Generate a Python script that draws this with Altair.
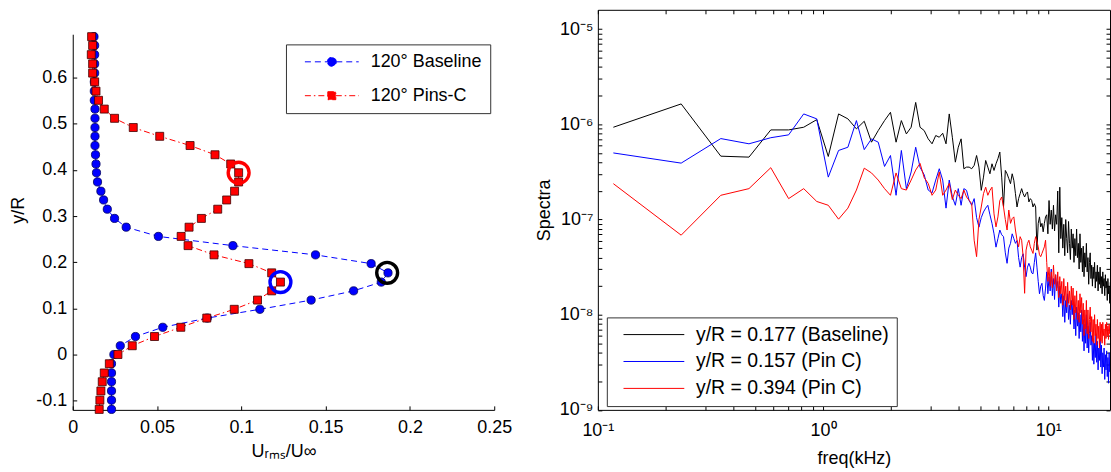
import altair as alt
import pandas as pd

# ---------------- Left panel: Urms/Uinf profiles ----------------
y_over_R = [0.689, 0.670, 0.650, 0.630, 0.610, 0.591, 0.571, 0.551, 0.532, 0.512,
            0.492, 0.473, 0.453, 0.433, 0.413, 0.394, 0.374, 0.354, 0.335, 0.315,
            0.295, 0.276, 0.256, 0.236, 0.216, 0.197, 0.177, 0.157, 0.138, 0.118,
            0.098, 0.079, 0.059, 0.039, 0.019, 0.000, -0.020, -0.040, -0.059, -0.079,
            -0.099, -0.119]
urms_baseline = [0.0126, 0.0130, 0.0130, 0.0130, 0.0130, 0.0128, 0.0128, 0.0128, 0.0132, 0.0132,
                 0.0132, 0.0132, 0.0132, 0.0135, 0.0138, 0.0141, 0.0147, 0.0167, 0.0183, 0.0205,
                 0.0248, 0.0317, 0.0508, 0.0950, 0.1440, 0.1770, 0.1870, 0.1830, 0.1666, 0.1414,
                 0.1110, 0.0798, 0.0534, 0.0372, 0.0282, 0.0244, 0.0230, 0.0230, 0.0230, 0.0230,
                 0.0230, 0.0230]
urms_pins = [0.0112, 0.0118, 0.0110, 0.0118, 0.0118, 0.0130, 0.0138, 0.0153, 0.0187, 0.0248,
             0.0359, 0.0516, 0.0696, 0.0844, 0.0937, 0.0984, 0.0984, 0.0960, 0.0913, 0.0860,
             0.0763, 0.0690, 0.0643, 0.0684, 0.0838, 0.1045, 0.1180, 0.1232, 0.1180, 0.1096,
             0.0958, 0.0795, 0.0641, 0.0485, 0.0353, 0.0268, 0.0217, 0.0187, 0.0175, 0.0167,
             0.0161, 0.0157]
left_series = ["120° Baseline", "120° Pins-C"]
left_colors = ["#0000ff", "#ff0000"]

ring_x = [0.0984, 0.1232, 0.1865]
ring_y = [0.394, 0.157, 0.177]
ring_color = ["#ff0000", "#0000ff", "#000000"]

left_x_ticks = [0, 0.05, 0.1, 0.15, 0.2, 0.25]
left_y_ticks = [-0.1, 0, 0.1, 0.2, 0.3, 0.4, 0.5, 0.6]

# ---------------- Right panel: spectra (log10 of value) ----------------
freq_step_khz = 0.1172
spec_names = ["y/R = 0.177 (Baseline)", "y/R = 0.157 (Pin C)", "y/R = 0.394 (Pin C)"]
spec_colors = ["#000000", "#0000ff", "#ff0000"]

spec_baseline_log10 = [
    -6.03, -5.785, -6.334, -6.344, -6.058, -6.058, -6.03, -5.95, -6.337, -5.89,
    -5.942, -6.047, -5.967, -6.187, -6.065, -5.960, -5.873, -6.187, -5.960, -6.10,
    -6.030, -5.769, -6.030, -6.065, -6.152, -6.204, -6.117, -6.135, -6.093, -6.204,
    -5.890, -6.135, -6.397, -6.240, -6.152, -6.466,
    -6.449, -6.449, -6.466, -6.431, -6.327, -6.449, -6.693, -6.554, -6.379, -6.449,
    -6.519, -6.414, -6.484, -6.414, -6.36, -6.291, -6.554, -6.868, -6.484, -6.519,
    -6.57, -6.623, -6.519, -6.588, -6.728, -6.868, -6.78, -6.728, -6.675, -6.728,
    -6.763, -6.728, -6.710, -6.815, -6.78, -6.798, -6.868, -6.833, -6.868, -7.321,
    -7.04, -6.972, -7.077, -7.04, -7.129, -7.04, -6.972,
    -6.95, -7.15, -6.80, -7.05, -6.90,
    -7.10, -6.85, -7.12, -6.95, -7.05,
    -6.70, -7.35, -6.66, -7.20,
    -6.98, -7.30, -7.05, -7.38, -7.00, -7.20,
    -7.35, -7.02, -7.25, -7.42, -7.10,
    -7.30, -7.15, -7.45, -7.20, -7.38, -7.10,
    -7.40, -7.25, -7.52, -7.15, -7.45, -7.30,
    -7.55, -7.28, -7.60, -7.35, -7.50, -7.25,
    -7.55, -7.40, -7.68, -7.45, -7.35, -7.62,
    -7.48, -7.70, -7.50, -7.62, -7.45, -7.72, -7.55,
    -7.65, -7.48, -7.75, -7.55, -7.68, -7.50, -7.72,
    -7.60, -7.78, -7.55, -7.70, -7.62, -7.80, -7.58, -7.72,
    -7.65, -7.85, -7.62, -7.78, -7.70, -7.88, -7.66, -7.80, -7.72, -7.86]

spec_pin157_log10 = [
    -6.30, -6.407, -6.149, -6.204, -6.14, -6.11, -5.89, -5.942, -6.554, -6.274,
    -6.240, -5.960, -6.265, -6.152, -6.187, -6.442, -6.327, -6.745, -6.274, -6.675,
    -6.50, -6.240, -6.45, -6.53, -6.69, -6.72, -6.585, -6.466, -6.585, -6.88,
    -6.585, -6.76, -6.85, -6.675, -6.85, -6.675,
    -6.693, -6.80, -6.85, -6.78, -6.98, -7.08, -6.98, -6.92, -6.88, -6.85,
    -6.95, -7.04, -7.15, -7.29, -7.2, -7.11, -7.16, -7.18, -7.35, -7.46,
    -7.3, -7.25, -7.15, -7.2, -7.25, -7.22, -7.4, -7.5, -7.4, -7.36,
    -7.5, -7.6, -7.5, -7.46, -7.5, -7.56, -7.57, -7.45, -7.35, -7.5,
    -7.65, -7.78, -7.7, -7.67, -7.8, -7.85, -7.72,
    -7.55, -7.78, -7.60, -7.75, -7.52,
    -7.80, -7.62, -7.84, -7.58, -7.72,
    -7.65, -7.92, -7.70, -7.88,
    -7.78, -8.02, -7.80, -8.08, -7.85, -7.98,
    -7.78, -8.05, -7.90, -8.10, -7.85,
    -8.00, -7.88, -8.15, -7.95, -8.22, -7.92,
    -8.12, -7.98, -8.25, -8.00, -8.18, -7.95,
    -8.28, -8.05, -8.38, -8.10, -8.30, -8.00,
    -8.35, -8.12, -8.40, -8.20, -8.08, -8.32,
    -8.22, -8.48, -8.25, -8.52, -8.30, -8.45, -8.20,
    -8.50, -8.28, -8.58, -8.35, -8.48, -8.25, -8.55,
    -8.32, -8.62, -8.40, -8.55, -8.35, -8.68, -8.42, -8.58,
    -8.38, -8.65, -8.45, -8.72, -8.40, -8.60, -8.50, -8.75, -8.45, -8.62]

spec_pin394_log10 = [
    -6.623, -7.164, -6.745, -6.675, -6.455, -6.78, -6.675, -6.81, -6.85, -6.996,
    -6.88, -6.69, -6.46, -6.51, -6.585, -6.675, -6.745, -6.51, -6.675, -6.69,
    -6.585, -6.48, -6.41, -6.56, -6.62, -6.745, -6.69, -6.50, -6.745, -6.69,
    -6.62, -6.79, -6.69, -6.745, -6.78, -6.69,
    -6.763, -6.798, -6.833, -7.217, -7.39, -7.0, -6.868, -6.728, -6.66, -6.745,
    -6.693, -6.66, -6.94, -7.077, -6.972, -6.80, -6.763, -6.868, -7.0, -7.11,
    -6.9, -7.04, -6.99, -6.972, -7.11, -7.217, -7.287, -7.18, -7.217, -7.39,
    -7.775, -7.321, -7.25, -7.217, -7.287, -7.321, -7.356, -7.25, -7.18, -7.23,
    -7.287, -7.37, -7.39, -7.356, -7.321, -7.287, -7.217,
    -7.45, -7.65, -7.50, -7.70, -7.55,
    -7.72, -7.48, -7.68, -7.58, -7.75,
    -7.55, -7.82, -7.60, -7.78,
    -7.65, -7.90, -7.62, -7.85, -7.70, -7.92,
    -7.66, -7.88, -7.75, -7.95, -7.70,
    -7.90, -7.72, -8.05, -7.80, -7.98, -7.75,
    -8.05, -7.85, -8.08, -7.78, -7.98, -7.82,
    -8.10, -7.88, -8.22, -7.95, -8.15, -7.85,
    -8.20, -7.95, -8.25, -8.05, -7.92, -8.18,
    -8.02, -8.28, -8.05, -8.30, -8.00, -8.22, -8.10,
    -8.32, -8.05, -8.25, -8.12, -8.35, -8.08, -8.28,
    -8.10, -8.30, -8.08, -8.22, -8.15, -8.32, -8.10, -8.25,
    -8.08, -8.22, -8.12, -8.26, -8.10, -8.20, -8.14, -8.25, -8.08, -8.18]

spec_x_ticks = [0.1, 0.2, 0.3, 0.4, 0.5, 0.6, 0.7, 0.8, 0.9,
                1, 2, 3, 4, 5, 6, 7, 8, 9, 10]
spec_y_ticks = [k * 10.0 ** e for e in [-9, -8, -7, -6] for k in range(1, 10)] + [1e-5]

# ---------------- Tables ----------------
left_rows = []
for s, xs_ in zip(left_series, [urms_baseline, urms_pins]):
    for i, (xv, yv) in enumerate(zip(xs_, y_over_R)):
        left_rows.append({"series": s, "urms": xv, "yR": yv, "i": i})
left_df = pd.DataFrame(left_rows)

spec_rows = []
for s, vals in zip(spec_names, [spec_baseline_log10, spec_pin157_log10, spec_pin394_log10]):
    for i, v in enumerate(vals):
        spec_rows.append({"series": s, "freq": round((i + 1) * freq_step_khz, 4),
                          "S": 10.0 ** v, "i": i})
spec_df = pd.DataFrame(spec_rows)

ring_df = pd.DataFrame({"x": ring_x, "y": ring_y, "c": ring_color})

FONT = "Liberation Sans"
FS = 18
PLOT_H = 401.5
LEFT_W = 423
LEFT_AXIS_H = 377   # drawn length of the left y-axis line

# ---------------- Left chart ----------------
xl = alt.Scale(domain=[0, 0.25], nice=False, zero=False)
yl = alt.Scale(domain=[-0.12, 0.7472], nice=False, zero=False)

axA_x = alt.Axis(orient="bottom", values=left_x_ticks, labelExpr="'' + datum.value",
                 ticks=False, domain=True, domainColor="black", domainWidth=1,
                 labelFontSize=FS, labelPadding=9, labelFlush=False, labelOverlap=False,
                 labelColor="black", grid=False, title="Uᵣₘₛ/U∞", titleFontSize=FS,
                 titleFontWeight="normal", titlePadding=6, titleColor="black")
axA_y = alt.Axis(orient="left", values=left_y_ticks, labelExpr="'' + datum.value",
                 ticks=False, domain=True, domainColor="black", domainWidth=1,
                 domainDash=[LEFT_AXIS_H, 60],
                 labelFontSize=FS, labelPadding=6, labelFlush=False, labelOverlap=False,
                 labelColor="black", grid=False, title="y/R", titleFontSize=FS,
                 titleFontWeight="normal", titlePadding=8, titleColor="black")
axB_x = alt.Axis(orient="bottom", values=left_x_ticks, labels=False, domain=False,
                 ticks=True, tickSize=4, offset=-4, tickColor="black", grid=False, title=None)
axB_y = alt.Axis(orient="left", values=left_y_ticks, labels=False, domain=False,
                 ticks=True, tickSize=4, offset=-4, tickColor="black", grid=False, title=None)

path_base = "M0.3,0H4.8M6.6,0H11.1M4.8,0A0.9,0.9,0,1,1,6.6,0A0.9,0.9,0,1,1,4.8,0Z"
path_pins = "M0.3,0H4.9M6.5,0H11.1M4.9,-0.8H6.5V0.8H4.9Z"
dash_range = [[6, 4], [6, 3, 1.5, 3]]

leg_left = alt.Legend(title=None, orient="none", legendX=214, legendY=34.7, padding=8.5,
                      rowPadding=16, labelFontSize=FS, labelFont=FONT, labelColor="black",
                      labelOffset=58.5, labelLimit=300, symbolSize=100, symbolStrokeWidth=1,
                      symbolFillColor="#0000ff", symbolStrokeColor="#0000ff",
                      strokeColor="#333333", fillColor="white", cornerRadius=0)

line_layers = []
for s, c, d in zip(left_series, left_colors, dash_range):
    line_layers.append(
        alt.Chart(left_df).transform_filter(alt.datum.series == s).mark_line(
            strokeWidth=1, clip=True, stroke=c, strokeDash=d).encode(
            x=alt.X("urms:Q", scale=xl, axis=axA_x if s == left_series[0] else None),
            y=alt.Y("yR:Q", scale=yl, axis=axA_y if s == left_series[0] else None),
            order="i:Q"))

legend_left_layer = alt.Chart(left_df).transform_filter("false").mark_point(
    filled=True, strokeWidth=1, opacity=1).encode(
    x=alt.X("urms:Q", scale=xl, axis=axB_x),
    y=alt.Y("yR:Q", scale=yl, axis=axB_y),
    stroke=alt.Stroke("series:N", scale=alt.Scale(domain=left_series, range=left_colors), legend=leg_left),
    strokeDash=alt.StrokeDash("series:N", scale=alt.Scale(domain=left_series, range=dash_range), legend=leg_left),
    fill=alt.Fill("series:N", scale=alt.Scale(domain=left_series, range=left_colors), legend=leg_left),
    shape=alt.Shape("series:N", scale=alt.Scale(domain=left_series, range=[path_base, path_pins]), legend=leg_left),
)

pts_base = alt.Chart(left_df).transform_filter(alt.datum.series == left_series[0]).mark_point(
    shape="circle", filled=True, size=68, fill="#0000ff", stroke="#000060", strokeWidth=0.8,
    opacity=1).encode(
    x=alt.X("urms:Q", scale=xl, axis=None), y=alt.Y("yR:Q", scale=yl, axis=None))
pts_pins = alt.Chart(left_df).transform_filter(alt.datum.series == left_series[1]).mark_point(
    shape="square", filled=True, size=64, fill="#ff0000", stroke="#400000", strokeWidth=0.8,
    opacity=1).encode(
    x=alt.X("urms:Q", scale=xl, axis=None), y=alt.Y("yR:Q", scale=yl, axis=None))

rings = []
for k, c in enumerate(ring_color):
    rings.append(alt.Chart(ring_df.iloc[[k]]).mark_point(
        shape="circle", filled=False, size=440, strokeWidth=3.4, stroke=c, opacity=1).encode(
        x=alt.X("x:Q", scale=xl, axis=None), y=alt.Y("y:Q", scale=yl, axis=None)))

left = alt.layer(*line_layers, legend_left_layer, pts_base, pts_pins, *rings).resolve_axis(
    x="independent", y="independent").properties(
    width=LEFT_W, height=PLOT_H, view=alt.ViewBackground(stroke="transparent"))

# ---------------- Right chart ----------------
xs = alt.Scale(type="log", domain=[0.1, 18.8], nice=False)
ys = alt.Scale(type="log", domain=[1e-9, 1.6e-5], nice=False)

x_lab = ("abs(log(datum.value)/LN10 - round(log(datum.value)/LN10)) < 0.01 ? "
         "'10' + ['⁻¹','⁰','¹'][round(log(datum.value)/LN10) + 1] : ''")
y_lab = ("abs(log(datum.value)/LN10 - round(log(datum.value)/LN10)) < 0.01 ? "
         "'10' + ['⁻⁹','⁻⁸','⁻⁷','⁻⁶','⁻⁵'][round(log(datum.value)/LN10) + 9] : ''")

leg_right = alt.Legend(title=None, orient="none", legendX=9, legendY=308.7, padding=7.5,
                       rowPadding=6, labelFontSize=19.5, labelFont=FONT, labelColor="black",
                       labelOffset=62.5, labelLimit=400, symbolType="M-0.1,0H12.1", symbolSize=100,
                       symbolStrokeWidth=1, strokeColor="#333333", fillColor="white",
                       cornerRadius=0)

spec_lines = alt.Chart(spec_df).mark_line(strokeWidth=1, clip=True).encode(
    x=alt.X("freq:Q", scale=xs, axis=alt.Axis(
        orient="bottom", values=spec_x_ticks, labelExpr=x_lab, tickSize=4, offset=-4,
        domain=False, tickColor="black", labelFontSize=FS, labelPadding=12, labelFlush=False,
        labelOverlap=False, labelColor="black", grid=False, title="freq(kHz)",
        titleFontSize=FS, titleFontWeight="normal", titlePadding=10, titleColor="black")),
    y=alt.Y("S:Q", scale=ys, axis=alt.Axis(
        orient="left", values=spec_y_ticks, labelExpr=y_lab, tickSize=4, offset=-4,
        domain=False, tickColor="black", labelFontSize=FS, labelPadding=5, labelFlush=False,
        labelOverlap=False, labelColor="black", grid=False, title="Spectra",
        titleFontSize=FS, titleFontWeight="normal", titlePadding=6, titleColor="black")),
    stroke=alt.Stroke("series:N", scale=alt.Scale(domain=spec_names, range=spec_colors),
                      legend=leg_right),
    order="i:Q",
)

spec_ticks = alt.Chart(spec_df).transform_filter("false").mark_line().encode(
    x=alt.X("freq:Q", scale=xs, axis=alt.Axis(
        orient="top", values=spec_x_ticks, labels=False, domain=False, tickSize=4, offset=-4,
        tickColor="black", grid=False, title=None)),
    y=alt.Y("S:Q", scale=ys, axis=alt.Axis(
        orient="right", values=spec_y_ticks, labels=False, domain=False, tickSize=4, offset=-4,
        tickColor="black", grid=False, title=None)),
)

right = alt.layer(spec_lines, spec_ticks).resolve_axis(
    x="independent", y="independent").properties(
    width=514, height=PLOT_H, view=alt.ViewBackground(stroke="black", strokeWidth=1))

chart = alt.hconcat(left, right, spacing=21).resolve_scale(
    stroke="independent", strokeDash="independent", fill="independent", shape="independent"
).resolve_legend(
    stroke="independent", strokeDash="independent", fill="independent", shape="independent"
).properties(
    padding={"left": 9, "top": 8, "right": 0, "bottom": 0}
).configure(font=FONT).configure_view(stroke="transparent")

chart.save("out.html", embed_options={"renderer": "svg", "actions": False})
